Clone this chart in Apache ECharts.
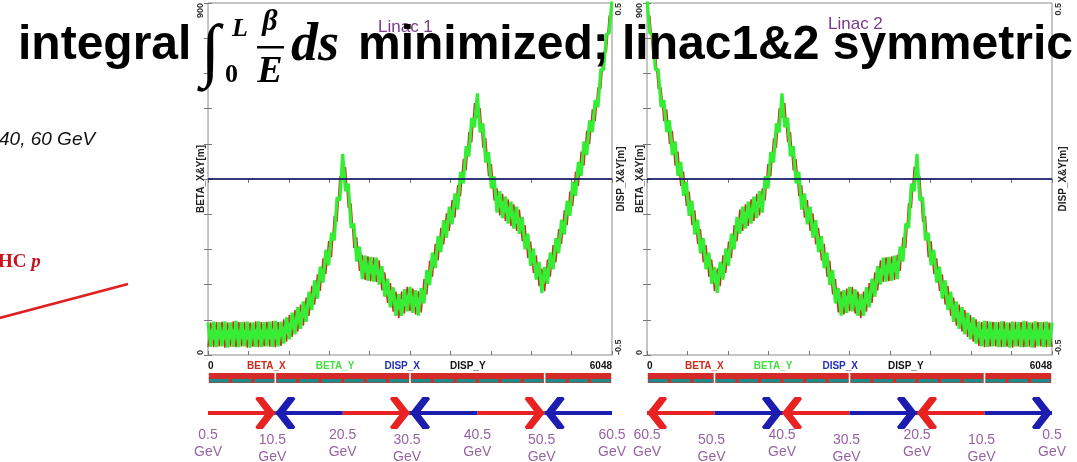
<!DOCTYPE html>
<html><head><meta charset="utf-8">
<script src="https://cdn.jsdelivr.net/npm/echarts@6/dist/echarts.min.js"></script>
<style>html,body{margin:0;padding:0;background:#fff;overflow:hidden}#c{width:1077px;height:462px}</style>
</head><body><div id="c"></div><script>
// ---------- data ----------
const S_STEP = 42;            // m between beta samples along each linac
const S_END = 6048;           // linac length [m]
const BETA_X1 = [21,83,20,84,22,85,19,83,21,86, 20,84,22,85,19,83,21,86,20,84, 22,85,21,87,20,84,23,91,34,102,
 46,115,60,129,75,147,100,177,129,206, 164,247,207,291,250,355,341,457,452,481, 376,387,274,301,215,256,192,252,189,250,
 187,242,165,211,133,184,111,162,94,162, 106,174,112,170,104,163,109,194,155,241, 200,284,242,325,283,362,317,396,351,434,
 406,501,472,570,544,644,607,631,530,554, 457,488,395,426,357,412,343,398,330,385, 317,372,291,332,248,290,210,255,176,221,
 163,244,200,281,237,322,284,370,332,418, 381,469,432,520,484,573,539,628,598,684, 680,775,776,867,870];
const BETA_Y1 = [83,21,85,20,84,22,86,19,83,21, 87,20,84,22,85,19,83,21,86,20, 84,22,85,21,87,22,85,29,96,40,
 108,53,122,67,137,85,162,115,191,144, 226,185,269,229,312,293,403,395,514,419, 438,325,336,239,277,194,254,190,251,188,
 249,180,227,149,195,122,173,100,156,100, 168,112,174,108,166,101,171,132,217,179, 262,222,304,263,345,300,379,334,413,372,
 468,439,534,508,606,582,669,569,592,492, 519,426,457,364,419,350,405,336,392,323, 379,310,353,270,310,228,272,193,238,159,
 225,182,262,219,299,260,346,308,394,356, 443,407,494,458,546,511,600,570,652,634, 730,729,820,823,910];
const BETA_X2 = [870,867,776,775,680, 684,598,628,539,573,484,520,432,469,381, 418,332,370,284,322,237,281,200,244,163,
 221,176,255,210,290,248,332,291,372,317, 385,330,398,343,412,357,426,395,488,457, 554,530,631,607,644,544,570,472,501,406,
 434,351,396,317,362,283,325,242,284,200, 241,155,194,109,163,104,170,112,174,106, 162,94,162,111,184,133,211,165,242,187,
 250,189,252,192,256,215,301,274,387,376, 481,452,457,341,355,250,291,207,247,164, 206,129,177,100,147,75,129,60,115,46,
 102,34,91,23,84,20,87,21,85,22, 84,20,86,21,83,19,85,22,84,20, 86,21,83,19,85,22,84,20,83,21];
const BETA_Y2 = [910,823,820,729,730, 634,652,570,600,511,546,458,494,407,443, 356,394,308,346,260,299,219,262,182,225,
 159,238,193,272,228,310,270,353,310,379, 323,392,336,405,350,419,364,457,426,519, 492,592,569,669,582,606,508,534,439,468,
 372,413,334,379,300,345,263,304,222,262, 179,217,132,171,101,166,108,174,112,168, 100,156,100,173,122,195,149,227,180,249,
 188,251,190,254,194,277,239,336,325,438, 419,514,395,403,293,312,229,269,185,226, 144,191,115,162,85,137,67,122,53,108,
 40,96,29,85,22,87,21,85,22,84, 20,86,21,83,19,85,22,84,20,87, 21,83,19,86,22,84,20,85,21,83];
const DISP_S = [0, 6048];
const DISP_X1 = [0, 0], DISP_Y1 = [0, 0], DISP_X2 = [0, 0], DISP_Y2 = [0, 0];
const BETA_RANGE = [0, 900], BETA_STEP = 90;
const DISP_RANGE = [-0.5, 0.5], DISP_STEP = 0.1;
const LATTICE_BREAKS = [0, 1008, 3024, 5040, 6048];
const CELL_BREAKS = [0,336,672,1008,1344,1680,2016,2352,2688,3024,3360,3696,4032,4368,4704,5040,5376,5712,6048];
const ENERGY_S = [0, 1008, 2016, 3024, 4032, 5040, 6048];
const ENERGY1 = ['0.5', '10.5', '20.5', '30.5', '40.5', '50.5', '60.5'];
const ENERGY2 = ['60.5', '50.5', '40.5', '30.5', '20.5', '10.5', '0.5'];
const ENERGY_UNIT = 'GeV';
const ARROW_FROM1 = [0, 2016, 2016, 4032, 4032, 6048], ARROW_TO1 = [1008, 1008, 3024, 3024, 5040, 5040];
const ARROW_FROM2 = [1008, 1008, 3024, 3024, 5040, 5040], ARROW_TO2 = [0, 2016, 2016, 4032, 4032, 6048];
const TITLE_WORD = 'integral', TITLE_REST = 'minimized; linac1&2 symmetric';

// ---------- styles ----------
const RED = '#d02a1e', GREEN = '#33ee33', NAVY = '#1c1c78', BLUE_T = '#1f2fb8', PURPLE = '#7a3a8a';
const ARROW_RED = '#e82222', ARROW_BLUE = '#1c1cb0', TEAL = '#1f8a8a', LAT_RED = '#d42a2a';
const SANS = "'Liberation Sans',Arial,sans-serif";
const SERIF = "'Liberation Serif','DejaVu Serif',serif";
const CHEVRON = 'path://M10,14 L20,25 L17,28 L10,20.5 L3,28 L0,25 Z M10,0 L10.01,0 L10,0.01 Z';

const PLOTS = [
  {left: 208, width: 404, bx: BETA_X1, by: BETA_Y1, dx: DISP_X1, dy: DISP_Y1, title: 'Linac 1', tl: 378, tt: 19,
   energy: ENERGY1, af: ARROW_FROM1, at: ARROW_TO1, rGap: 4, legLeft: 242},
  {left: 647, width: 405, bx: BETA_X2, by: BETA_Y2, dx: DISP_X2, dy: DISP_Y2, title: 'Linac 2', tl: 828, tt: 16,
   energy: ENERGY2, af: ARROW_FROM2, at: ARROW_TO2, rGap: 6, legLeft: 680}
];

const grid = [], xAxis = [], yAxis = [], series = [], legend = [], title = [];
const tickStyle = {show: true, inside: true, length: 4, lineStyle: {color: '#777', width: 1}};
const lblBase = {fontSize: 9, fontWeight: 'bold', color: '#333', fontFamily: SANS};

PLOTS.forEach((p, k) => {
  const g0 = grid.length;
  grid.push({left: p.left, top: 2, width: p.width, height: 353, show: true, borderColor: '#8c8c8c', borderWidth: 1});
  grid.push({left: p.left, top: 373, width: p.width, height: 10});
  grid.push({left: p.left, top: 399, width: p.width, height: 28});
  const xa = xAxis.length, ya = yAxis.length;
  const xCommon = {type: 'value', min: 0, max: S_END, interval: S_END / 10, splitLine: {show: false}, axisLine: {show: false}};
  xAxis.push(Object.assign({}, xCommon, {gridIndex: g0, position: 'bottom', axisTick: tickStyle,
    axisLabel: Object.assign({}, lblBase, {fontSize: 10, margin: 6, color: '#111', alignMinLabel: 'left', alignMaxLabel: 'right',
      formatter: v => { const r = Math.round(v); return (r === 0 || r === S_END) ? String(r) : ''; }})}));
  xAxis.push(Object.assign({}, xCommon, {gridIndex: g0, position: 'top', axisTick: tickStyle, axisLabel: {show: false}}));
  xAxis.push({gridIndex: g0 + 1, type: 'value', min: 0, max: S_END, show: false});
  xAxis.push({gridIndex: g0 + 2, type: 'value', min: 0, max: S_END, show: false});
  yAxis.push({gridIndex: g0, type: 'value', position: 'left', min: BETA_RANGE[0], max: BETA_RANGE[1], interval: BETA_STEP,
    splitLine: {show: false}, axisLine: {show: false}, axisTick: tickStyle,
    axisLabel: Object.assign({}, lblBase, {rotate: 90, margin: 3, alignMinLabel: 'left', alignMaxLabel: 'right',
      formatter: v => (v === BETA_RANGE[0] || v === BETA_RANGE[1]) ? String(v) : ''}),
    name: 'BETA_X&Y[m]', nameLocation: 'middle', nameRotate: 90, nameGap: 2, nameMoveOverlap: false,
    nameTextStyle: {fontSize: 10, fontWeight: 'bold', color: '#222', fontFamily: SANS}});
  yAxis.push({gridIndex: g0, type: 'value', position: 'right', min: DISP_RANGE[0], max: DISP_RANGE[1], interval: DISP_STEP,
    splitLine: {show: false}, axisLine: {show: false}, axisTick: tickStyle,
    axisLabel: Object.assign({}, lblBase, {rotate: 90, margin: 2, alignMinLabel: 'left', alignMaxLabel: 'right',
      formatter: v => (Math.abs(Math.abs(v) - 0.5) < 1e-9) ? String(Math.round(v * 10) / 10) : ''}),
    name: 'DISP_X&Y[m]', nameLocation: 'middle', nameRotate: 90, nameGap: p.rGap, nameMoveOverlap: false,
    nameTextStyle: {fontSize: 10, fontWeight: 'bold', color: '#222', fontFamily: SANS}});
  yAxis.push({gridIndex: g0 + 1, type: 'value', min: 0, max: 1, show: false});
  yAxis.push({gridIndex: g0 + 2, type: 'value', min: -1, max: 1, show: false});

  const lineBase = {type: 'line', xAxisIndex: xa, showSymbol: false, symbol: 'none', animation: false, silent: true};
  series.push(Object.assign({}, lineBase, {name: 'BETA_X', yAxisIndex: ya, z: 2, color: RED,
    lineStyle: {color: RED, width: 1.5}, data: p.bx.map((v, i) => [i * S_STEP, v])}));
  series.push(Object.assign({}, lineBase, {name: 'BETA_Y', yAxisIndex: ya, z: 3, color: GREEN,
    lineStyle: {color: GREEN, width: 3.2}, data: p.by.map((v, i) => [i * S_STEP, v])}));
  series.push(Object.assign({}, lineBase, {name: 'DISP_Y', yAxisIndex: ya + 1, z: 4, color: '#000',
    lineStyle: {color: '#000', width: 1}, data: p.dy.map((v, i) => [DISP_S[i], v])}));
  series.push(Object.assign({}, lineBase, {name: 'DISP_X', yAxisIndex: ya + 1, z: 5, color: NAVY,
    lineStyle: {color: NAVY, width: 1.4}, data: p.dx.map((v, i) => [DISP_S[i], v])}));

  // lattice strip
  series.push({type: 'custom', xAxisIndex: xa + 2, yAxisIndex: ya + 2, silent: true, animation: false,
    data: LATTICE_BREAKS.slice(1).map((e, i) => [LATTICE_BREAKS[i], e]),
    renderItem: (params, api) => {
      const a = api.coord([api.value(0), 0])[0], b = api.coord([api.value(1), 0])[0], cs = params.coordSys;
      return {type: 'rect', shape: {x: a + 0.8, y: cs.y, width: b - a - 1.6, height: cs.height}, style: {fill: LAT_RED}};
    }});
  series.push({type: 'custom', xAxisIndex: xa + 2, yAxisIndex: ya + 2, silent: true, animation: false, z: 3,
    data: CELL_BREAKS.slice(1).map((e, i) => [CELL_BREAKS[i], e]),
    renderItem: (params, api) => {
      const a = api.coord([api.value(0), 0])[0], b = api.coord([api.value(1), 0])[0], cs = params.coordSys;
      return {type: 'rect', shape: {x: a + 1.5, y: cs.y + 6, width: b - a - 3, height: cs.height - 6.5}, style: {fill: TEAL}};
    }});

  // energy arrows
  [0, 1].forEach(par => {
    series.push({type: 'lines', coordinateSystem: 'cartesian2d', xAxisIndex: xa + 3, yAxisIndex: ya + 3,
      silent: true, animation: false, z: 4,
      symbol: ['none', CHEVRON], symbolSize: [20, 40],
      lineStyle: {color: par ? ARROW_BLUE : ARROW_RED, width: 4, opacity: 1, curveness: 0},
      data: p.af.map((f, i) => ({coords: [[f, 0], [p.at[i], 0]]})).filter((d, i) => i % 2 === par)});
  });
  // energy labels
  series.push({type: 'scatter', xAxisIndex: xa + 3, yAxisIndex: ya + 3, silent: true, animation: false,
    symbolSize: 1, itemStyle: {color: 'rgba(0,0,0,0)'},
    label: {show: true, position: 'bottom', distance: 13, color: PURPLE, fontSize: 14, lineHeight: 17,
      fontFamily: SANS, align: 'center', formatter: q => q.name + '\n' + ENERGY_UNIT},
    data: ENERGY_S.map((s, i) => ({name: p.energy[i], value: [s, 0],
      label: {offset: [i % 2 ? -3 : 0, i % 2 ? 5 : 0]}}))});

  legend.push({left: p.legLeft, top: 361, itemGap: 25, itemWidth: 0, itemHeight: 0, icon: 'none', selectedMode: false,
    padding: 0, textStyle: {fontSize: 10, fontWeight: 'bold', fontFamily: SANS},
    data: [{name: 'BETA_X', textStyle: {color: RED}}, {name: 'BETA_Y', textStyle: {color: '#44dd44'}},
           {name: 'DISP_X', textStyle: {color: BLUE_T}}, {name: 'DISP_Y', textStyle: {color: '#111'}}]});
  title.push({text: p.title, left: p.tl, top: p.tt, padding: 0,
    textStyle: {color: PURPLE, fontSize: 17, fontWeight: 'normal', fontFamily: SANS}});
});

const T = (text, x, y, font, extra) => Object.assign({type: 'text', x, y, z: 100, silent: true,
  style: Object.assign({text, font, fill: '#000', align: 'left', verticalAlign: 'middle', textAlign: 'left', textVerticalAlign: 'middle'}, extra || {})});
const graphic = [
  T(TITLE_WORD, 18, 46, `bold 48px ${SANS}`),
  T('\u222B', 200, 55, `bold italic 70px ${SERIF}`),
  T('L', 232, 29, `bold italic 26px ${SERIF}`),
  T('0', 225, 75, `bold 26px ${SERIF}`),
  T('\u03B2', 270, 22, `bold italic 30px ${SERIF}`, {align: 'center', textAlign: 'center'}),
  {type: 'rect', z: 100, silent: true, shape: {x: 257, y: 46, width: 27, height: 2.5}, style: {fill: '#000'}},
  T('E', 270, 72, `bold italic 38px ${SERIF}`, {align: 'center', textAlign: 'center'}),
  T('ds', 291, 46, `bold italic 54px ${SERIF}`),
  T(TITLE_REST, 358, 46, `bold 48px ${SANS}`),
  T('40, 60 GeV', -1, 140, `italic 19px ${SANS}`, {fill: '#111'}),
  {type: 'text', x: -2, y: 262, z: 100, silent: true, style: {text: '{a|HC }{b|p}', verticalAlign: 'middle', textVerticalAlign: 'middle',
    rich: {a: {font: `bold 19px ${SERIF}`, fill: '#c8141e'}, b: {font: `bold italic 19px ${SERIF}`, fill: '#c8141e'}}}},
  {type: 'line', z: 100, silent: true, shape: {x1: -2, y1: 318.5, x2: 128, y2: 284}, style: {stroke: '#e02020', lineWidth: 2.6}}
];

const chart = echarts.init(document.getElementById('c'), null, {renderer: 'canvas'});
chart.setOption({animation: false, backgroundColor: '#fff', title, legend, grid, xAxis, yAxis, series, graphic});
</script></body></html>
